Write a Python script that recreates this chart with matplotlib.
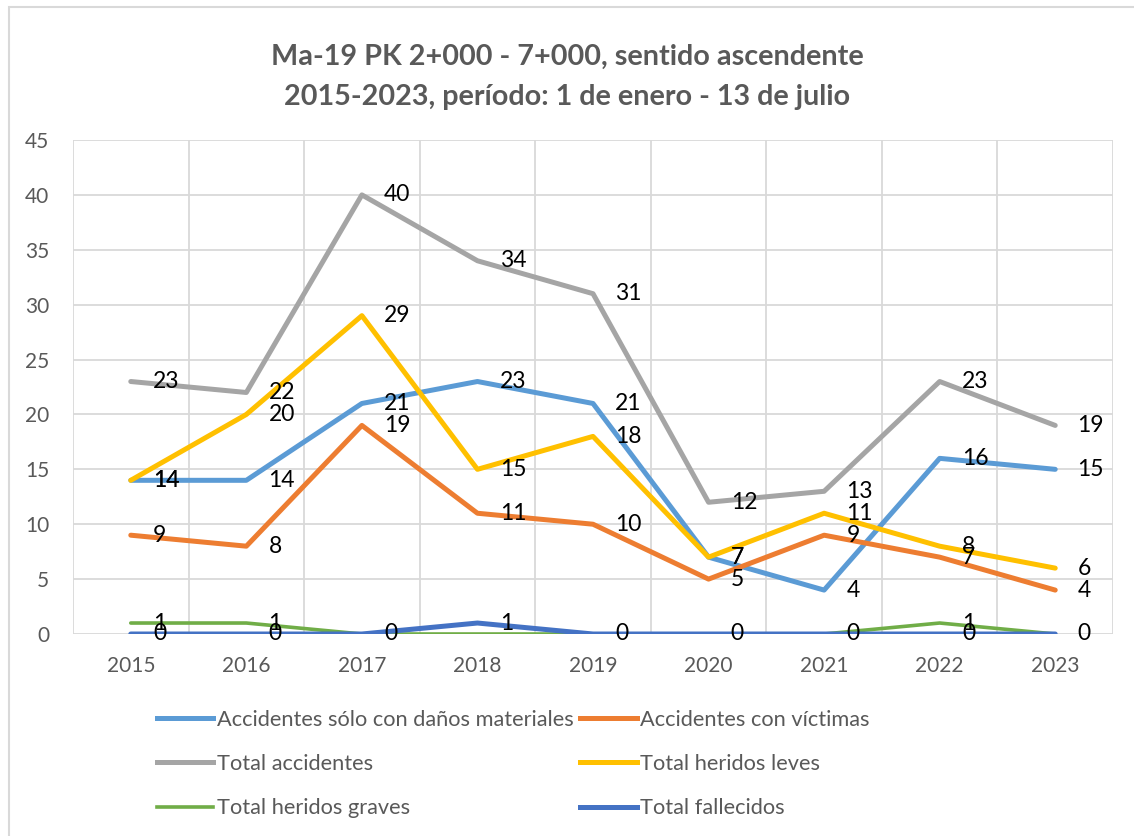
import matplotlib
matplotlib.use("Agg")
import matplotlib.pyplot as plt
from matplotlib.patches import Rectangle
from matplotlib.lines import Line2D

years = ["2015", "2016", "2017", "2018", "2019", "2020", "2021", "2022", "2023"]
danos_materiales = [14, 14, 21, 23, 21, 7, 4, 16, 15]
con_victimas = [9, 8, 19, 11, 10, 5, 9, 7, 4]
total_accidentes = [23, 22, 40, 34, 31, 12, 13, 23, 19]
heridos_leves = [14, 20, 29, 15, 18, 7, 11, 8, 6]
heridos_graves = [1, 1, 0, 0, 0, 0, 0, 1, 0]
fallecidos = [0, 0, 0, 1, 0, 0, 0, 0, 0]

series = [
    ("Accidentes sólo con daños materiales", danos_materiales, "#5B9BD5", 3.6),
    ("Accidentes con víctimas", con_victimas, "#ED7D31", 3.6),
    ("Total accidentes", total_accidentes, "#A5A5A5", 3.6),
    ("Total heridos leves", heridos_leves, "#FFC000", 3.6),
    ("Total heridos graves", heridos_graves, "#70AD47", 2.6),
    ("Total fallecidos", fallecidos, "#4472C4", 3.6),
]

plt.rcParams['font.family'] = ['Lato', 'DejaVu Sans']
TXT = "#595959"
GRID = "#D9D9D9"

fig = plt.figure(figsize=(11.34, 8.36), dpi=100)
fig.patches.append(Rectangle((9/1134, -0.1), 1.2, 1 - 7/836 + 0.1, transform=fig.transFigure,
                             fill=False, edgecolor=GRID, linewidth=1.5))

ax = fig.add_axes([73/1134, 1 - 634/836, (1113 - 73)/1134, (634 - 140)/836])
x = list(range(len(years)))
for name, vals, col, lw in series:
    ax.plot(x, vals, color=col, linewidth=lw, solid_capstyle='round', solid_joinstyle='round', label=name, zorder=3)

# data labels
for name, vals, col, lw in series:
    for xi, v in zip(x, vals):
        if name == "Total heridos graves" and v == 0:
            continue
        ax.annotate(str(v), (xi, v), xytext=(16, 0), textcoords='offset points',
                    ha='left', va='center', fontsize=16.5, color='black', zorder=5)

ax.set_xlim(-0.5, len(years) - 0.5)
ax.set_ylim(0, 45)
ax.set_yticks(range(0, 46, 5))
ax.set_xticks(x)
ax.set_xticklabels(years)
for xv in [i - 0.5 for i in range(len(years) + 1)]:
    ax.axvline(xv, color=GRID, linewidth=1.3, zorder=0)
ax.yaxis.grid(True, color=GRID, linewidth=1.3, zorder=0)
ax.set_axisbelow(True)
for s in ax.spines.values():
    s.set_visible(False)
ax.tick_params(axis='both', length=0, labelsize=15, labelcolor=TXT)
ax.tick_params(axis='y', pad=17)
ax.tick_params(axis='x', pad=16)

fig.text(567/1134, 1 - 57/836, "Ma-19 PK 2+000 - 7+000, sentido ascendente", ha='center', va='center',
         fontsize=20.7, fontweight='bold', color=TXT)
fig.text(567/1134, 1 - 97/836, "2015-2023, período: 1 de enero - 13 de julio", ha='center', va='center',
         fontsize=20.7, fontweight='bold', color=TXT)

order = [0, 2, 4, 1, 3, 5]
handles = [Line2D([0], [0], color=series[i][2], linewidth=series[i][3]) for i in order]
labels = [series[i][0] for i in order]
leg = fig.legend(handles, labels, loc='upper left', bbox_to_anchor=(137/1134, 1 - 690/836), ncol=2,
                 frameon=False, fontsize=15.7, handlelength=2.6, handletextpad=0.15, columnspacing=0.3,
                 labelspacing=1.12)
for t in leg.get_texts():
    t.set_color(TXT)

fig.savefig("out.png", dpi=100)
